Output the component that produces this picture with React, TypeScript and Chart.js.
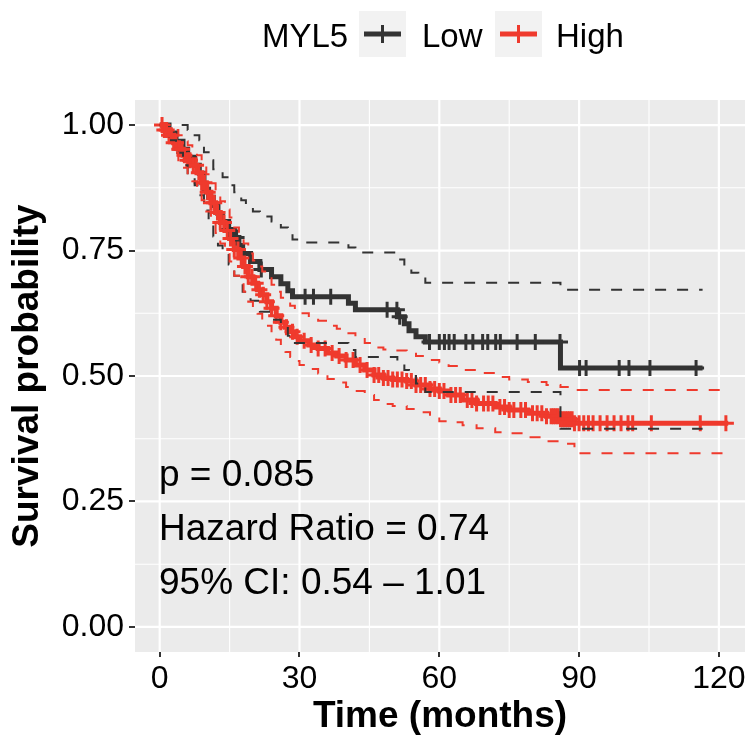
import React, { useEffect, useRef } from 'react';
import { Chart, registerables } from 'chart.js';
Chart.register(...registerables);

const FONT = '"Liberation Sans", Arial, sans-serif';
const LOW_COLOR = '#333333';
const HIGH_COLOR = '#EF3A2D';

const xTicks = [0, 30, 60, 90, 120];
const xMinor = [15, 45, 75, 105];
const yTicks = [0, 0.25, 0.5, 0.75, 1];
const yMinor = [0.125, 0.375, 0.625, 0.875];
const yTickLabels = ['0.00', '0.25', '0.50', '0.75', '1.00'];

const legendTitle = 'MYL5';
const groups = ['Low', 'High'];
const annotations = ['p = 0.085', 'Hazard Ratio = 0.74', '95% CI: 0.54 \u2013 1.01'];

// Kaplan-Meier estimates [time, survival]
const lowCurve: [number, number][] = [
  [0, 1], [2, 0.984], [3.5, 0.968], [5, 0.952], [6, 0.936], [7.5, 0.92], [8.5, 0.904],
  [9.5, 0.872], [10.5, 0.856], [11.5, 0.84], [12.5, 0.824], [13.5, 0.808], [14.8, 0.792],
  [16, 0.776], [17, 0.76], [17.8, 0.744], [19.5, 0.728], [21.5, 0.712], [24, 0.698],
  [26, 0.684], [27.5, 0.67], [28.5, 0.658], [40.5, 0.645], [42, 0.632], [51, 0.618],
  [52.5, 0.604], [53.5, 0.59], [55, 0.578], [57, 0.568], [86, 0.516], [116.5, 0.516],
];
const lowUpper: [number, number][] = [
  [0, 1], [6, 0.99], [7.5, 0.98], [8.5, 0.97], [9.5, 0.946], [10.5, 0.93], [11.5, 0.912],
  [13.5, 0.896], [15, 0.88], [16, 0.866], [17.5, 0.85], [18.5, 0.838], [20, 0.828],
  [21.5, 0.818], [24, 0.808], [26, 0.796], [27.5, 0.786], [28.5, 0.772], [29.5, 0.766],
  [40.5, 0.756], [42, 0.746], [51, 0.732], [52.5, 0.718], [54, 0.706], [55.5, 0.698],
  [57, 0.686], [86, 0.672], [116.5, 0.672],
];
const lowLower: [number, number][] = [
  [0, 1], [2, 0.97], [3.5, 0.945], [5, 0.92], [6, 0.9], [7.5, 0.88], [8.5, 0.86],
  [9.5, 0.83], [10.5, 0.806], [11.5, 0.778], [12.5, 0.76], [13.5, 0.745], [14.8, 0.722],
  [16, 0.7], [17, 0.685], [17.8, 0.668], [19.5, 0.65], [21.5, 0.628], [24, 0.612],
  [26, 0.6], [27.5, 0.58], [28.5, 0.566], [40.5, 0.552], [42, 0.538], [51, 0.526],
  [52.5, 0.512], [53.5, 0.5], [55, 0.485], [57, 0.468], [86, 0.395], [116.5, 0.395],
];
const highCurve: [number, number][] = [
  [0, 1], [1, 0.99], [2, 0.98], [3, 0.965], [4, 0.952], [5, 0.94], [6, 0.93], [7, 0.92],
  [8, 0.905], [9, 0.885], [10, 0.866], [11, 0.845], [12, 0.826], [13, 0.806], [14, 0.79],
  [15, 0.774], [16, 0.752], [17, 0.735], [18, 0.718], [19, 0.698], [20, 0.685], [21, 0.672],
  [22, 0.662], [23, 0.648], [24, 0.635], [25, 0.62], [26, 0.607], [27, 0.597], [28, 0.588],
  [29, 0.578], [30, 0.57], [32, 0.562], [34, 0.555], [36, 0.546], [38, 0.54], [40, 0.532],
  [42, 0.522], [44, 0.512], [46, 0.502], [48, 0.496], [50, 0.493], [53, 0.49], [55, 0.482],
  [58, 0.474], [60, 0.47], [62, 0.462], [65, 0.452], [68, 0.445], [72, 0.438], [75, 0.432],
  [79, 0.426], [83, 0.42], [86, 0.414], [89, 0.406], [122, 0.406],
];
const highUpper: [number, number][] = [
  [0, 1], [3, 0.99], [4, 0.98], [5, 0.968], [6, 0.96], [7, 0.952], [8, 0.94], [9, 0.922],
  [10, 0.902], [11, 0.884], [12, 0.866], [13, 0.848], [14, 0.832], [15, 0.816], [16, 0.796],
  [17, 0.78], [18, 0.764], [19, 0.744], [20, 0.73], [21, 0.718], [22, 0.708], [23, 0.695],
  [24, 0.682], [25, 0.668], [26, 0.656], [27, 0.648], [28, 0.64], [29, 0.632], [30, 0.625],
  [32, 0.617], [34, 0.61], [36, 0.6], [38, 0.594], [40, 0.585], [42, 0.576], [44, 0.566],
  [46, 0.557], [48, 0.553], [50, 0.551], [53, 0.548], [55, 0.54], [58, 0.532], [60, 0.527],
  [62, 0.52], [65, 0.512], [68, 0.506], [72, 0.498], [75, 0.493], [79, 0.488], [83, 0.482],
  [86, 0.478], [89, 0.472], [122, 0.472],
];
const highLower: [number, number][] = [
  [0, 1], [1, 0.98], [2, 0.965], [3, 0.945], [4, 0.93], [5, 0.915], [6, 0.9], [7, 0.888],
  [8, 0.87], [9, 0.85], [10, 0.828], [11, 0.805], [12, 0.785], [13, 0.764], [14, 0.746],
  [15, 0.728], [16, 0.7], [17, 0.686], [18, 0.668], [19, 0.648], [20, 0.636], [21, 0.624],
  [22, 0.612], [23, 0.6], [24, 0.586], [25, 0.572], [26, 0.558], [27, 0.548], [28, 0.538],
  [29, 0.53], [30, 0.522], [32, 0.514], [34, 0.505], [36, 0.494], [38, 0.487], [40, 0.478],
  [42, 0.47], [44, 0.462], [46, 0.452], [48, 0.444], [50, 0.44], [53, 0.434], [55, 0.428],
  [58, 0.418], [60, 0.41], [62, 0.408], [65, 0.402], [68, 0.396], [72, 0.388], [75, 0.386],
  [79, 0.378], [83, 0.37], [86, 0.365], [89, 0.346], [122, 0.346],
];

// censoring times
const lowCensorTimes = [
  14.8, 16.5, 21.8, 31.2, 33, 36.7, 48.8, 50.9, 51.5, 57.9, 60, 61.1, 62.1, 63.2, 65.7,
  67.2, 69.3, 70.4, 72.1, 73.1, 76.7, 80.6, 85.9, 90.1, 91.5, 98.6, 100.7, 105.2, 115.1,
];
const highCensorTimes = [
  0.5, 1, 1.5, 2, 2.5, 3, 3.5, 4.2, 4.8, 5.3, 6, 6.5, 7.2, 7.8, 8.4, 9, 9.6, 10.3, 11,
  11.7, 12.4, 13, 13.8, 14.5, 15.2, 16, 16.8, 17.5, 18.3, 19, 19.8, 20.6, 21.4, 22.2, 23,
  24, 25, 26, 27.2, 28.5, 29.5, 31, 32.5, 34, 35.5, 37, 38.5, 40, 41.5, 43, 44.5, 46, 47,
  48, 49, 50, 51, 52, 53, 54, 55, 56, 57, 58, 59, 60, 61, 62.5, 63.5, 64.5, 66, 67, 68,
  69.5, 70.5, 71.5, 73, 74, 75, 76, 77.5, 78.5, 80, 81, 82, 83, 84, 84.5, 85, 85.5, 86,
  86.5, 87, 87.5, 88, 88.5, 89, 90, 91, 92, 93, 94.5, 96, 97.5, 99, 100.5, 101.5, 105.5,
  116, 121.5,
];

function survAt(curve: [number, number][], t: number) {
  let v = 1;
  for (const [ct, s] of curve) if (ct <= t) v = s;
  return v;
}
const pts = (c: [number, number][]) => c.map(([x, y]) => ({ x, y }));

const ciLine = (data: [number, number][], color: string) => ({
  data: pts(data),
  borderColor: color,
  borderWidth: 2,
  borderDash: [11, 11],
  stepped: 'before' as const,
  pointRadius: 0,
  fill: false,
});
const curveLine = (data: [number, number][], color: string) => ({
  data: pts(data),
  borderColor: color,
  borderWidth: 5,
  stepped: 'before' as const,
  pointRadius: 0,
  fill: false,
});
const censor = (times: number[], curve: [number, number][], color: string) => ({
  data: times.map((t) => ({ x: t, y: survAt(curve, t) })),
  showLine: false,
  borderColor: color,
  backgroundColor: color,
  pointStyle: 'cross',
  pointRadius: 8,
  pointBorderWidth: 3,
  borderWidth: 3,
});

const panelPlugin = {
  id: 'panel',
  beforeDraw(chart: any) {
    const { ctx, chartArea: a, scales } = chart;
    const x = scales.x, y = scales.y;
    ctx.save();
    ctx.fillStyle = '#EBEBEB';
    ctx.fillRect(a.left, a.top, a.right - a.left, a.bottom - a.top);
    ctx.strokeStyle = '#FFFFFF';
    const vline = (v: number, w: number) => {
      const px = x.getPixelForValue(v);
      ctx.lineWidth = w;
      ctx.beginPath(); ctx.moveTo(px, a.top); ctx.lineTo(px, a.bottom); ctx.stroke();
    };
    const hline = (v: number, w: number) => {
      const py = y.getPixelForValue(v);
      ctx.lineWidth = w;
      ctx.beginPath(); ctx.moveTo(a.left, py); ctx.lineTo(a.right, py); ctx.stroke();
    };
    xMinor.forEach((v) => vline(v, 1.1));
    yMinor.forEach((v) => hline(v, 1.1));
    xTicks.forEach((v) => vline(v, 2.2));
    yTicks.forEach((v) => hline(v, 2.2));
    ctx.restore();
  },
  afterDraw(chart: any) {
    const { ctx } = chart;
    ctx.save();
    // annotations
    ctx.fillStyle = '#000';
    ctx.font = `37px ${FONT}`;
    ctx.textBaseline = 'alphabetic';
    ctx.textAlign = 'left';
    const baselines = [486, 540, 594];
    annotations.forEach((t, i) => ctx.fillText(t, 159, baselines[i]));
    // legend
    ctx.font = `33px ${FONT}`;
    ctx.fillText(legendTitle, 262, 47);
    const keys = [{ x: 359, color: LOW_COLOR, label: groups[0], lx: 422 }, { x: 495, color: HIGH_COLOR, label: groups[1], lx: 556 }];
    keys.forEach((k) => {
      ctx.fillStyle = '#F2F2F2';
      ctx.fillRect(k.x, 11, 47, 46);
      ctx.strokeStyle = k.color;
      ctx.lineWidth = 5;
      ctx.beginPath(); ctx.moveTo(k.x + 5, 34); ctx.lineTo(k.x + 42, 34); ctx.stroke();
      ctx.lineWidth = 3;
      ctx.beginPath(); ctx.moveTo(k.x + 23.5, 25); ctx.lineTo(k.x + 23.5, 43); ctx.stroke();
      ctx.fillStyle = '#000';
      ctx.fillText(k.label, k.lx, 47);
    });
    ctx.restore();
  },
};

export default function App() {
  const ref = useRef<HTMLCanvasElement | null>(null);
  useEffect(() => {
    if (!ref.current) return;
    const chart = new Chart(ref.current, {
      type: 'line',
      data: {
        datasets: [
          ciLine(highUpper, HIGH_COLOR),
          ciLine(highLower, HIGH_COLOR),
          ciLine(lowUpper, LOW_COLOR),
          ciLine(lowLower, LOW_COLOR),
          censor(highCensorTimes, highCurve, HIGH_COLOR),
          censor(lowCensorTimes, lowCurve, LOW_COLOR),
          curveLine(highCurve, HIGH_COLOR),
          curveLine(lowCurve, LOW_COLOR),
        ] as any,
      },
      options: {
        animation: false,
        responsive: false,
        devicePixelRatio: 1,
        layout: { padding: { top: 100, right: 4, left: 0, bottom: 0 } },
        plugins: { legend: { display: false }, tooltip: { enabled: false } },
        elements: { line: { tension: 0 } },
        scales: {
          x: {
            type: 'linear',
            min: -5.3,
            max: 125.6,
            afterBuildTicks: (s: any) => { s.ticks = xTicks.map((v) => ({ value: v })); },
            afterFit: (s: any) => { s.height = 83; },
            grid: { display: true, drawOnChartArea: false, drawTicks: true, tickLength: 5, color: '#333333', lineWidth: 2 },
            border: { display: false },
            ticks: {
              font: { family: FONT, size: 32 },
              color: '#000',
              padding: 3,
              maxRotation: 0,
              autoSkip: false,
              callback: (v: any) => String(v),
            },
            title: {
              display: true,
              text: 'Time (months)',
              color: '#000',
              font: { family: FONT, size: 37, weight: 'bold', lineHeight: 0.9 },
              padding: { top: 0, bottom: 2 },
            },
          },
          y: {
            type: 'linear',
            min: -0.05,
            max: 1.05,
            afterBuildTicks: (s: any) => { s.ticks = yTicks.map((v) => ({ value: v })); },
            afterFit: (s: any) => { s.width = 135; },
            grid: { display: true, drawOnChartArea: false, drawTicks: true, tickLength: 6, color: '#333333', lineWidth: 2 },
            border: { display: false },
            ticks: {
              font: { family: FONT, size: 32 },
              color: '#000',
              padding: 5,
              callback: (v: any) => yTickLabels[yTicks.indexOf(Number(v))] ?? '',
            },
            title: {
              display: true,
              text: 'Survival probability',
              color: '#000',
              font: { family: FONT, size: 37, weight: 'bold' },
              padding: { top: 6, bottom: 0 },
            },
          },
        },
      } as any,
      plugins: [panelPlugin],
    });
    return () => chart.destroy();
  }, []);
  return (
    <div style={{ position: 'fixed', left: 0, top: 0, width: 756, height: 735, background: '#fff' }}>
      <canvas ref={ref} width={756} height={735} style={{ width: 756, height: 735, display: 'block' }} />
    </div>
  );
}
